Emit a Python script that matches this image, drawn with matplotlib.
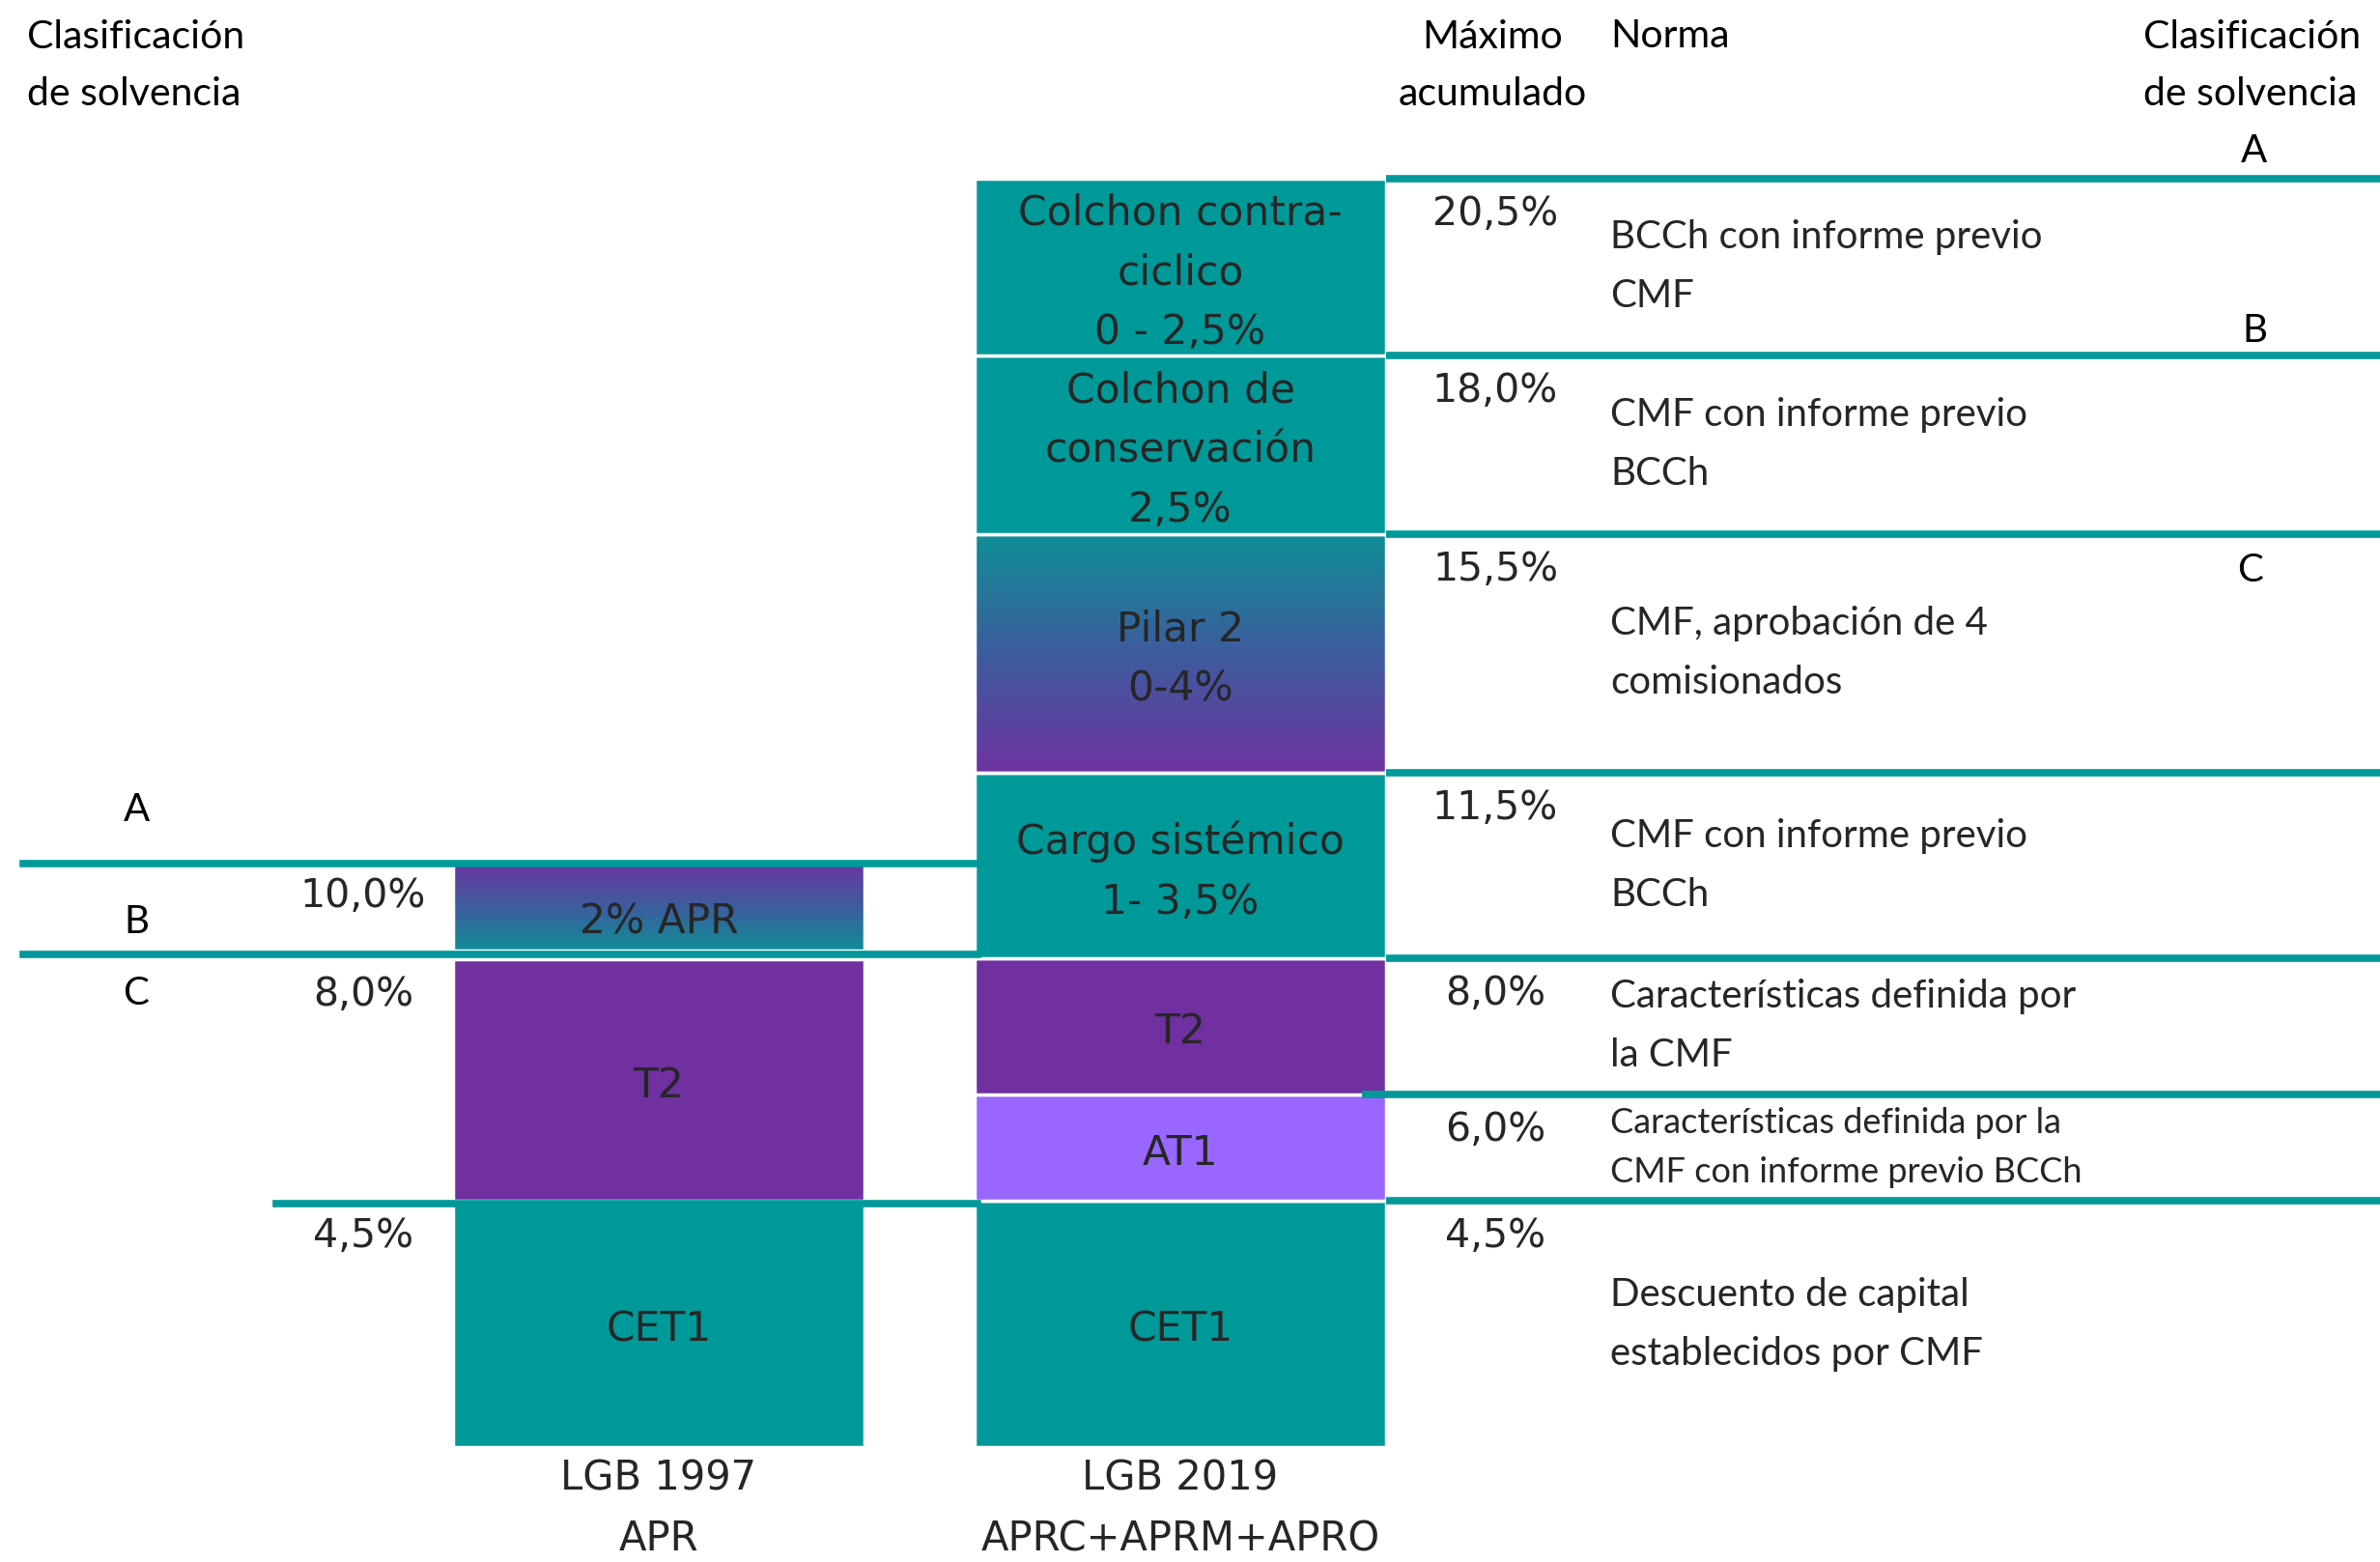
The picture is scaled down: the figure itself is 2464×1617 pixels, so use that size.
import numpy as np
import matplotlib.pyplot as plt
from matplotlib.colors import LinearSegmentedColormap

teal = "#009999"
purple = "#7030A0"
lilac = "#9966FF"
ink = "#262626"

# LGB 2019 stack, bottom to top (schematic heights)
seg19_labels = ["CET1", "AT1", "T2", "Cargo sistémico\n1- 3,5%", "Pilar 2\n0-4%",
                "Colchon de\nconservación\n2,5%", "Colchon contra-\nciclico\n0 - 2,5%"]
seg19_heights = [255, 110, 141, 192, 247, 185, 183]
seg19_fill = [teal, lilac, purple, teal, "up", teal, teal]
seg19_max = ["4,5%", "6,0%", "8,0%", "11,5%", "15,5%", "18,0%", "20,5%"]
seg19_norma = ["Descuento de capital\nestablecidos por CMF",
               "Características definida por la\nCMF con informe previo BCCh",
               "Características definida por\nla CMF",
               "CMF con informe previo\nBCCh",
               "CMF, aprobación de 4\ncomisionados",
               "CMF con informe previo\nBCCh",
               "BCCh con informe previo\nCMF"]

# LGB 1997 stack, bottom to top ("" = blank gap)
seg97_labels = ["CET1", "T2", "", "2% APR"]
seg97_heights = [255, 250, 9, 93]
seg97_fill = [teal, purple, None, "down"]
seg97_max = ["4,5%", "8,0%", "", "10,0%"]

bar_names = ["LGB 1997\nAPR", "LGB 2019\nAPRC+APRM+APRO"]

W, H = 2464, 1617
fig = plt.figure(figsize=(W / 100, H / 100), dpi=100)
ax = fig.add_axes([0, 0, 1, 1])
ax.set_xlim(0, W)
ax.set_ylim(0, H)
ax.axis("off")

base = 119
xs = [682, 1222]
bw = 426
grad_up = LinearSegmentedColormap.from_list("g_up", ["#6E33A0", "#3D5C9E", "#0F8E96"])
grad_down = LinearSegmentedColormap.from_list("g_dn", ["#0F8E96", "#3D5C9E", "#6E33A0"])

body = "Lato"
boxfont = "DejaVu Sans"


def draw_stack(x, heights, fills, labels):
    bounds = []
    b = base
    for h, f, lab in zip(heights, fills, labels):
        if f is not None:
            face = "none" if f in ("up", "down") else f
            rect = ax.bar(x, h, bw, bottom=b, color=face, edgecolor="white",
                          linewidth=2.5, zorder=2)[0]
            if f in ("up", "down"):
                g = np.linspace(0, 1, 256).reshape(-1, 1)
                im = ax.imshow(g, cmap=grad_up if f == "up" else grad_down,
                               extent=(x - bw / 2, x + bw / 2, b, b + h),
                               origin="lower", aspect="auto", zorder=1.5)
                im.set_clip_path(rect)
            if lab:
                # the thin APR band has its label sitting low
                ty = b + h * 0.32 if f == "down" else b + h / 2 - 6
                ax.text(x, ty, lab, ha="center", va="center", fontsize=30.5,
                        family=boxfont, color=ink, linespacing=1.6, zorder=3)
        bounds.append((b, b + h))
        b += h
    return bounds


b97 = draw_stack(xs[0], seg97_heights, seg97_fill, seg97_labels)
b19 = draw_stack(xs[1], seg19_heights, seg19_fill, seg19_labels)

# teal dividers
lw = 5.5
ax.plot([24, 1012], [b97[3][1] - 3, b97[3][1] - 3], color=teal, lw=lw, zorder=4)
ax.plot([24, 1012], [sum(b97[2]) / 2, sum(b97[2]) / 2], color=teal, lw=lw, zorder=4)
ax.plot([286, 1012], [b97[0][1] - 3, b97[0][1] - 3], color=teal, lw=lw, zorder=4)
right_edge = xs[1] + bw / 2
for i, (lo, hi) in enumerate(b19):
    x0 = right_edge - 25 if i == 1 else right_edge
    ax.plot([x0, W], [hi, hi], color=teal, lw=lw, zorder=4, solid_capstyle="butt")

# percentages
for (lo, hi), txt in zip(b97, seg97_max):
    if txt:
        ax.text(376, hi - 37, txt, ha="center", va="center", fontsize=29.5,
                family=boxfont, color=ink)
for (lo, hi), txt in zip(b19, seg19_max):
    ax.text(1548, hi - 37, txt, ha="center", va="center", fontsize=29.5,
            family=boxfont, color=ink)

# norma column
for (lo, hi), txt in zip(b19, seg19_norma):
    small = txt.startswith("Características definida por la")
    ax.text(1667, (lo + hi) / 2, txt, ha="left", va="center",
            fontsize=26 if small else 29, family=body, color=ink,
            linespacing=1.7 if small else 1.8)

# headers
hy = H - 68
hdr = dict(fontsize=29.5, family=body, color="black", linespacing=1.75)
ax.text(28, hy, "Clasificación\nde solvencia", ha="left", va="center", **hdr)
ax.text(1545, hy, "Máximo\nacumulado", ha="center", va="center", **hdr)
ax.text(1667, H - 38, "Norma", ha="left", va="center", **hdr)
ax.text(2219, hy, "Clasificación\nde solvencia", ha="left", va="center", **hdr)

# solvency letters
for txt, x, y in [("A", 141, 838), ("B", 141, 954), ("C", 141, 1029),
                  ("A", 2334, 156), ("B", 2334, 343), ("C", 2330, 591)]:
    ax.text(x, H - y, txt, ha="center", va="center", fontsize=29, family=body,
            color="black")

for x, name in zip(xs, bar_names):
    ax.text(x, H - 1562, name, ha="center", va="center", fontsize=30,
            family=boxfont, color=ink, linespacing=1.62)

fig.savefig("out.png", dpi=100)
